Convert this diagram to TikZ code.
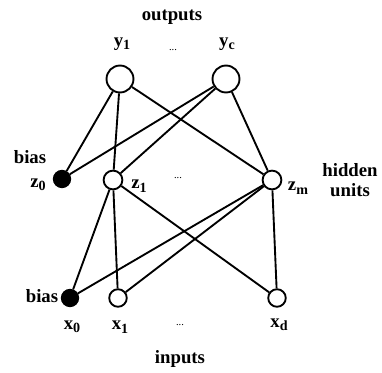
\documentclass[tikz,border=0pt]{standalone}
\usepackage{fontspec}
\setmainfont{Liberation Serif}
\newcommand{\lowidx}[1]{\raisebox{-3pt}{\fontsize{12}{14}\selectfont #1}}
\begin{document}
\begin{tikzpicture}[x=0.03cm,y=-0.03cm,line width=1.6pt,
  unit/.style={circle,draw,fill=white,inner sep=0pt,minimum size=15pt},
  outunit/.style={unit,minimum size=23pt},
  biasunit/.style={unit,fill=black,minimum size=14pt},
  lbl/.style={inner sep=0pt,font=\fontsize{16}{19}\selectfont\bfseries},
  var/.style={inner sep=0pt,font=\fontsize{16}{19}\selectfont\bfseries},
  dots/.style={inner sep=0pt,font=\fontsize{9}{10}\selectfont}]
\useasboundingbox (0,0) rectangle (382,373);
% units
\node[outunit] (y1) at (120,79) {};
\node[outunit] (yc) at (226,79) {};
\node[biasunit] (z0) at (62,179) {};
\node[unit,minimum size=16pt] (z1) at (113,180) {};
\node[unit,minimum size=16pt] (zm) at (272,180) {};
\node[biasunit] (x0) at (70,298) {};
\node[unit] (x1) at (118,298) {};
\node[unit] (xd) at (277,298) {};
% labels
\node[lbl] (outputs) at (172,17) {outputs};
\node[var] (ly1) at (122,44) {y\lowidx{1}};
\node[dots] (dy) at (173,50) {...};
\node[var] (lyc) at (227,44) {y\lowidx{c}};
\node[lbl] (bz) at (30,157) {bias};
\node[var] (lz0) at (38,185) {z\lowidx{0}};
\node[var] (lz1) at (139,186) {z\lowidx{1}};
\node[dots] (dz) at (178,178) {...};
\node[var] (lzm) at (298,188) {z\lowidx{m}};
\node[lbl] (hidden) at (350,170) {hidden};
\node[lbl] (hunits) at (350,190) {units};
\node[lbl] (bx) at (42,296) {bias};
\node[var] (lx0) at (72,327) {x\lowidx{0}};
\node[var] (lx1) at (120,327) {x\lowidx{1}};
\node[dots] (dx) at (180,325) {...};
\node[var] (lxd) at (279,325) {x\lowidx{d}};
\node[lbl] (inputs) at (180,359) {inputs};
% connections
\foreach \a in {y1,yc} {
  \foreach \b in {z0,z1,zm} {
    \draw (\a)--(\b);
  }
}
\foreach \a in {z1,zm} {
  \foreach \b in {x0,x1,xd} {
    \draw (\a)--(\b);
  }
}
\end{tikzpicture}
\end{document}
